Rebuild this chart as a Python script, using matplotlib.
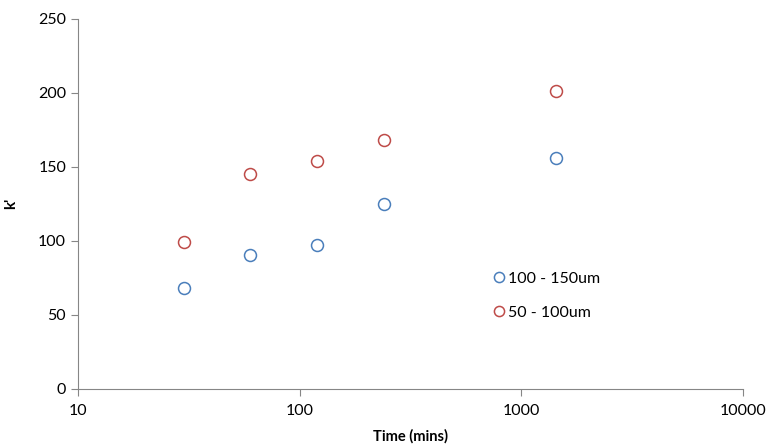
import matplotlib
matplotlib.use("Agg")
import matplotlib.pyplot as plt

plt.rcParams.update({"font.family": ["Lato", "DejaVu Sans"], "font.size": 10})

time_mins = [30, 60, 120, 240, 1440]
k_100_150 = [68, 90, 97, 125, 156]
k_50_100 = [99, 145, 154, 168, 201]
series_labels = ["100 - 150um", "50 - 100um"]

GRAY = "#868686"
fig = plt.figure(figsize=(7.69, 4.48), dpi=100)
ax = fig.add_axes([0.1014, 0.1328, 0.8646, 0.8259])

ax.plot(time_mins, k_100_150, "o", mfc="none", mec="#4a7ebb", ms=8.6, mew=1.1, label=series_labels[0])
ax.plot(time_mins, k_50_100, "o", mfc="none", mec="#be4b48", ms=8.6, mew=1.1, label=series_labels[1])

ax.set_xscale("log")
ax.set_xlim(10, 10000)
ax.set_ylim(0, 250)
ax.set_xticks([10, 100, 1000, 10000])
ax.set_xticklabels(["10", "100", "1000", "10000"])
ax.xaxis.set_minor_locator(matplotlib.ticker.NullLocator())
ax.set_yticks(range(0, 251, 50))

for s in ["top", "right"]:
    ax.spines[s].set_visible(False)
for s in ["left", "bottom"]:
    ax.spines[s].set_color(GRAY)
ax.tick_params(colors=GRAY, labelcolor="black", length=5, width=0.8, labelsize=11.5)
ax.tick_params(axis="x", pad=6)

ax.set_xlabel("Time (mins)", fontweight="bold", fontsize=10.5, labelpad=8)
ax.set_ylabel("k'", fontweight="bold", fontsize=11, labelpad=14)

ax.legend(loc="upper left", bbox_to_anchor=(0.6, 0.355), frameon=False, markerscale=0.85,
          handletextpad=0.05, handlelength=1.0, labelspacing=1.25, fontsize=11.5)

fig.savefig("out.png", dpi=100)
